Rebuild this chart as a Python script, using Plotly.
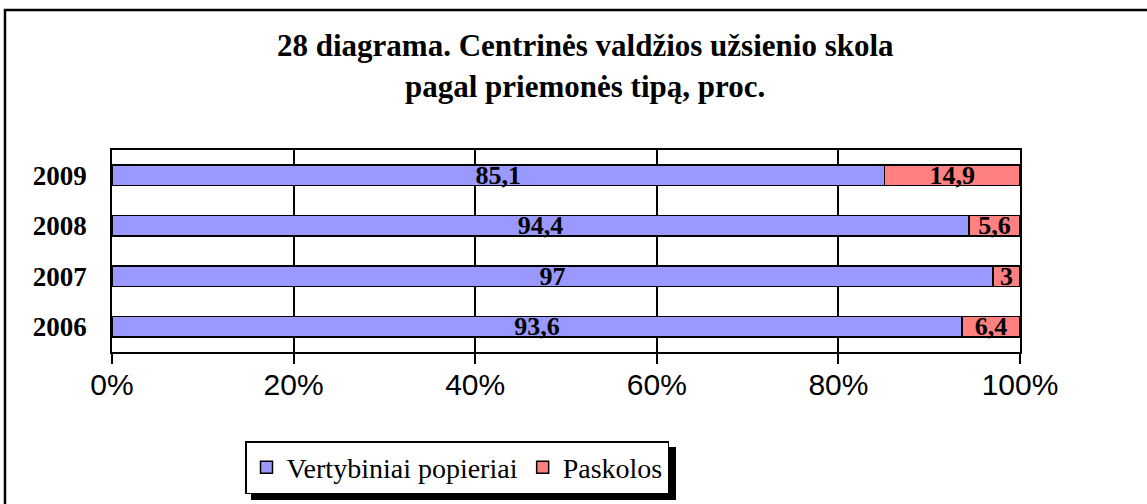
import plotly.graph_objects as go

years = ["2006", "2007", "2008", "2009"]
securities = [93.6, 97, 94.4, 85.1]
loans = [6.4, 3, 5.6, 14.9]
series_names = ["Vertybiniai popieriai", "Paskolos"]
x_ticks = [0, 20, 40, 60, 80, 100]
x_tick_labels = ["0%", "20%", "40%", "60%", "80%", "100%"]
title_lines = ["28 diagrama. Centrinės valdžios užsienio skola",
               "pagal priemonės tipą, proc."]

W, H = 1147, 504
L, R, T, B = 112, 1020, 150, 352

def px_x(p):
    return (p - L) / (R - L)

def px_y(p):
    return (B - p) / (B - T)

def fmt(v):
    return ("%g" % v).replace(".", ",")

serif = "Liberation Serif"
fig = go.Figure()
for vals, name, color in [(securities, series_names[0], "#9999FF"),
                          (loans, series_names[1], "#FF8080")]:
    fig.add_trace(go.Bar(
        y=years, x=vals, orientation="h", name=name,
        marker=dict(color=color, line=dict(color="black", width=1.5)),
        text=[fmt(v) for v in vals], textposition="inside",
        insidetextanchor="middle", textangle=0, constraintext="none",
        textfont=dict(family=serif, size=26, color="black", weight="bold"),
        hoverinfo="skip",
    ))

shapes = [
    dict(type="rect", xref="paper", yref="paper",
         x0=px_x(5), x1=px_x(1250), y0=px_y(560), y1=px_y(10),
         line=dict(color="black", width=2.5), fillcolor="rgba(0,0,0,0)", layer="below"),
    dict(type="rect", xref="paper", yref="paper",
         x0=px_x(251), x1=px_x(676), y0=px_y(500), y1=px_y(447),
         line=dict(width=0), fillcolor="black", layer="above"),
]

annotations = [
    dict(text=title_lines[0], xref="paper", yref="paper", x=px_x(585), y=px_y(45),
         xanchor="center", yanchor="middle", showarrow=False,
         font=dict(family=serif, size=31, color="black", weight="bold")),
    dict(text=title_lines[1], xref="paper", yref="paper", x=px_x(585), y=px_y(87),
         xanchor="center", yanchor="middle", showarrow=False,
         font=dict(family=serif, size=31, color="black", weight="bold")),
]

fig.update_layout(
    width=W, height=H,
    margin=dict(l=L, r=W - R, t=T, b=H - B, autoexpand=False),
    paper_bgcolor="white", plot_bgcolor="white",
    barmode="stack", bargap=0.6,
    xaxis=dict(
        range=[0, 100], tickvals=x_ticks, ticktext=x_tick_labels,
        showgrid=True, gridcolor="black", gridwidth=1.5,
        showline=True, linecolor="black", linewidth=1.5, mirror=True,
        ticks="outside", ticklen=10, tickcolor="black", tickwidth=1.5,
        ticklabelstandoff=-5,
        tickfont=dict(family="Liberation Sans", size=30, color="black"),
        zeroline=False, fixedrange=True, automargin=False,
    ),
    yaxis=dict(
        type="category", categoryorder="array", categoryarray=years,
        showline=True, linecolor="black", linewidth=1.5, mirror=True,
        ticks="", ticklabelstandoff=18,
        tickfont=dict(family=serif, size=27, color="black", weight="bold"),
        showgrid=False, fixedrange=True, automargin=False,
    ),
    legend=dict(
        orientation="h", x=px_x(245), y=px_y(441), xanchor="left", yanchor="top",
        bgcolor="white", bordercolor="black", borderwidth=1.5,
        font=dict(family=serif, size=28, color="black"),
        itemclick=False, itemdoubleclick=False, traceorder="normal",
    ),
    shapes=shapes,
    annotations=annotations,
    showlegend=True,
)

fig.write_html("out.html", config={"displayModeBar": False},
               post_script="document.body.style.margin='0';document.body.style.overflow='hidden';")
